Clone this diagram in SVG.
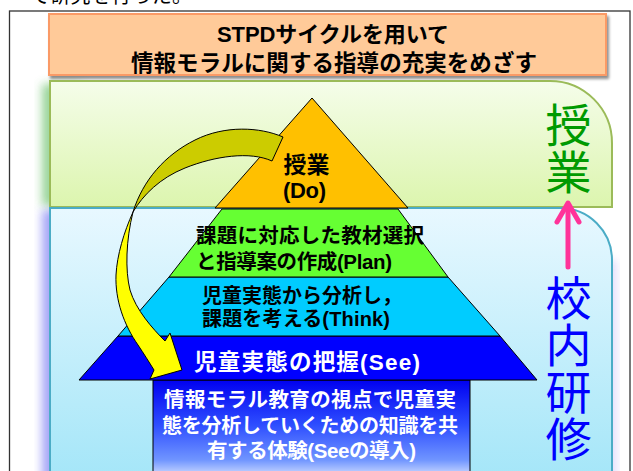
<svg xmlns="http://www.w3.org/2000/svg" width="633" height="471" viewBox="0 0 633 471">
<defs>
<style>
.t{font-family:"Liberation Sans","Noto Sans CJK JP",sans-serif;}
.b{font-weight:bold;}
.blk{fill:#000;}
.wht{fill:#fff;}
.lvl{stroke:#000;stroke-width:1;stroke-linejoin:miter;}
</style>
<linearGradient id="gGreen" x1="0" y1="0" x2="0" y2="1">
<stop offset="0" stop-color="#F5FDEA"/>
<stop offset="1" stop-color="#DCF5AE"/>
</linearGradient>
<linearGradient id="gBlue" x1="0" y1="0" x2="0" y2="1">
<stop offset="0" stop-color="#E8F8FF"/>
<stop offset="1" stop-color="#A4E6F8"/>
</linearGradient>
<linearGradient id="gBox" x1="0" y1="0" x2="0" y2="1">
<stop offset="0" stop-color="#0000F0"/>
<stop offset="0.45" stop-color="#2E4EFF"/>
<stop offset="0.8" stop-color="#7095FF"/>
<stop offset="1" stop-color="#E8F0FF"/>
</linearGradient>
<filter id="blur" x="-20%" y="-20%" width="140%" height="140%">
<feGaussianBlur stdDeviation="5"/>
</filter>
<filter id="shadow" x="-5%" y="-10%" width="110%" height="130%">
<feGaussianBlur in="SourceAlpha" stdDeviation="1.5"/>
<feOffset dx="2" dy="3" result="o"/>
<feComponentTransfer><feFuncA type="linear" slope="0.45"/></feComponentTransfer>
<feMerge><feMergeNode/><feMergeNode in="SourceGraphic"/></feMerge>
</filter>
<marker id="pinkHead" viewBox="0 0 10 10" refX="5" refY="1" markerWidth="10" markerHeight="10" orient="auto"/>
</defs>

<rect width="633" height="471" fill="#fff"/>

<!-- clipped text above frame -->
<text class="t" x="30" y="3" font-size="20" fill="#000" textLength="162">で研究を行った。</text>

<!-- outer frame -->
<rect x="9.5" y="11" width="620.5" height="480" fill="none" stroke="#333" stroke-width="1.3"/>

<!-- glows -->
<g id="glows">
<rect x="42" y="84" width="40" height="122" fill="#8FD08F" filter="url(#blur)" opacity="0.9"/>
<rect x="42" y="210" width="40" height="280" fill="#9C9CF6" filter="url(#blur)" opacity="0.9"/>
<rect x="600" y="260" width="16" height="230" fill="#D8D0FA" filter="url(#blur)" opacity="0.8"/>
</g>

<!-- title -->
<g id="title">
<rect x="49" y="14" width="557" height="61" fill="#FFCA99" stroke="#FA9A66" stroke-width="2" filter="url(#shadow)"/>
<text class="t b blk" x="333" y="41.5" font-size="22" text-anchor="middle" textLength="232">STPDサイクルを用いて</text>
<text class="t b blk" x="334" y="71" font-size="22.5" text-anchor="middle" textLength="406">情報モラルに関する指導の充実をめざす</text>
</g>

<!-- region boxes -->
<g id="jugyo-region">
<path d="M50,81 H550 A62,62 0 0 1 612,143 V207 H50 Z" fill="url(#gGreen)" stroke="#9BBB59" stroke-width="2"/>
<text class="t" x="568.5" y="142" font-size="46" fill="#009A00" text-anchor="middle">授</text>
<text class="t" x="568.5" y="189" font-size="46" fill="#009A00" text-anchor="middle">業</text>
</g>
<g id="kenshu-region">
<path d="M50,208 H560 A52,52 0 0 1 612,260 V480 H50 Z" fill="url(#gBlue)" stroke="#4BACC6" stroke-width="2"/>
<text class="t" x="568.5" y="315" font-size="46" fill="#0000FF" text-anchor="middle">校</text>
<text class="t" x="568.5" y="362" font-size="46" fill="#0000FF" text-anchor="middle">内</text>
<text class="t" x="568.5" y="409" font-size="46" fill="#0000FF" text-anchor="middle">研</text>
<text class="t" x="568.5" y="456" font-size="46" fill="#0000FF" text-anchor="middle">修</text>
</g>

<!-- pyramid -->
<g id="see-base">
<rect x="153" y="380" width="317" height="100" fill="url(#gBox)" stroke="#000" stroke-width="1"/>
<text class="t b wht" x="310" y="406.5" font-size="20.5" text-anchor="middle" textLength="292">情報モラル教育の視点で児童実</text>
<text class="t b wht" x="310" y="433" font-size="20" text-anchor="middle" textLength="296">態を分析していくための知識を共</text>
<text class="t b wht" x="311.5" y="458" font-size="20.5" text-anchor="middle" textLength="209">有する体験(Seeの導入)</text>
</g>
<g id="see">
<polygon class="lvl" points="118,336 500,336 537,380 79,380" fill="#0000FF"/>
<text class="t b wht" x="194" y="370" font-size="22.5" textLength="226">児童実態の把握(See)</text>
</g>
<g id="think">
<polygon class="lvl" points="169,277 448,277 500,336 118,336" fill="#00CCFF"/>
<text class="t b blk" x="202" y="303" font-size="20">児童実態から分析し，</text>
<text class="t b blk" x="202" y="326" font-size="20" textLength="188">課題を考える(Think)</text>
</g>
<g id="plan">
<polygon class="lvl" points="222,209 398,209 448,277 169,277" fill="#66FF33"/>
<text class="t b blk" x="196" y="243" font-size="20.5" textLength="228">課題に対応した教材選択</text>
<text class="t b blk" x="196" y="269" font-size="20.5" textLength="196">と指導案の作成(Plan)</text>
</g>
<g id="do">
<polygon class="lvl" points="312,98 408,208 215,208" fill="#FFC000"/>
<text class="t b blk" x="306.5" y="173" font-size="23" text-anchor="middle">授業</text>
<text class="t b blk" x="283" y="198" font-size="22" textLength="43">(Do)</text>
</g>

<!-- connectors -->
<g id="connectors">
<path d="M283,137 C260,127 225,125 195,140 C165,155 143,180 133,212 C143,195 160,178 185,168 C215,156 250,151 272,161 Z" fill="#CCCC00" stroke="#000" stroke-width="1" stroke-linejoin="round"/>
<path d="M133,212 C124,232 117,255 116,275 C115,300 124,325 138,345 C144,354 149,362 154,370 L150,379 L182,370 L170,333 L165,341 C152,328 136,310 130,290 C125,270 126,240 133,212 Z" fill="#FFFF00" stroke="#000" stroke-width="1" stroke-linejoin="miter"/>
<line x1="568" y1="267" x2="568" y2="205" stroke="#FF3399" stroke-width="5" stroke-linecap="round"/>
<polyline points="557,222 568,203 579,222" fill="none" stroke="#FF3399" stroke-width="5" stroke-linecap="round" stroke-linejoin="round"/>
</g>
</svg>
